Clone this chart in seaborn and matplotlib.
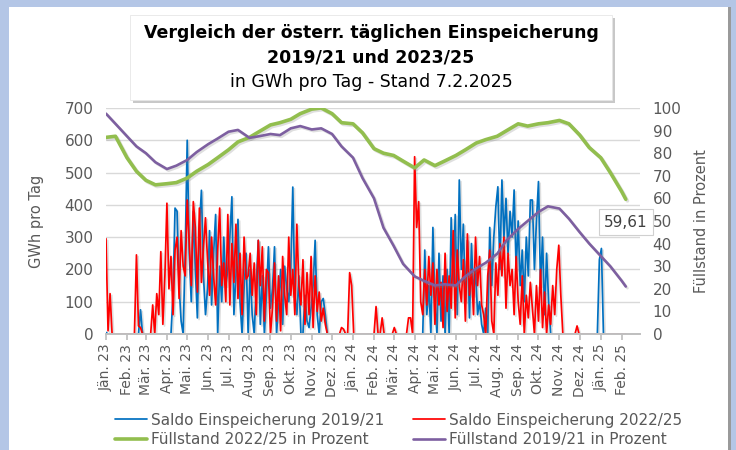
import numpy as np
import pandas as pd
import matplotlib
matplotlib.use("Agg")
import matplotlib.pyplot as plt
import matplotlib.dates as mdates
import matplotlib.patheffects as pe
from matplotlib.patches import Rectangle
from matplotlib.ticker import FuncFormatter, MultipleLocator
import seaborn as sns

# ---------------- data ----------------
title_lines = ["Vergleich der österr. täglichen Einspeicherung",
               "2019/21 und 2023/25",
               "in GWh pro Tag - Stand 7.2.2025"]
month_names = ["Jän.", "Feb.", "Mär.", "Apr.", "Mai.", "Jun.",
               "Jul.", "Aug.", "Sep.", "Okt.", "Nov.", "Dez."]
series_names = ["Saldo Einspeicherung 2019/21", "Saldo Einspeicherung 2022/25",
                "Füllstand 2022/25 in Prozent", "Füllstand 2019/21 in Prozent"]
left_label = "GWh pro Tag"
right_label = "Füllstand in Prozent"
end_label = "59,61"

# daily net injection, sampled every 3 days from 1 Jan 2023 (GWh/day)
saldo_start = "2023-01-01"
saldo_step = "3D"
saldo_2022_25 = [
    295, 10, 125, 0, 0, 0, 0, 0, 0, 0,
    0, 0, 0, 0, 0, 245, 25, 20, 0, 0,
    0, 0, 0, 90, 0, 125, 60, 255, 30, 180,
    405, 140, 240, 60, 260, 300, 110, 320, 210, 180,
    415, 280, 150, 410, 330, 130, 390, 160, 270, 360,
    230, 120, 300, 180, 90, 260, 390, 150, 220, 100,
    370, 90, 280, 160, 340, 110, 250, 60, 300, 170,
    180, 250, 120, 220, 60, 290, 150, 270, 40, 200,
    190, 0, 80, 220, 40, 180, 10, 240, 120, 60,
    300, 120, 200, 60, 340, 150, 90, 230, 30, 190,
    60, 240, 20, 180, 70, 130, 40, 80, 30, 0,
    0, 0, 0, 0, 0, 0, 20, 15, 0, 0,
    190, 150, 0, 0, 0, 0, 0, 0, 0, 0,
    0, 0, 0, 85, 0, 0, 50, 0, 0, 0,
    0, 0, 20, 0, 0, 0, 0, 0, 0, 50,
    50, 0, 549, 330, 410, 100, 60, 200, 90, 240,
    120, 220, 30, 200, 90, 160, 20, 250, 70, 180,
    80, 320, 50, 260, 150, 100, 230, 40, 310, 120,
    200, 60, 300, 150, 240, 90, 60, 0, 180, 260,
    40, 0, 220, 120, 280, 180, 300, 80, 250, 150,
    200, 60, 240, 100, 30, 180, 0, 120, 50, 160,
    80, 0, 150, 40, 200, 20, 130, 0, 90, 30,
    150, 60, 200, 275, 120, 0, 0, 0, 0, 0,
    0, 0, 25, 0, 0, 0, 0, 0, 0, 0,
    0, 0, 0, 0, 0, 0, 0, 0, 0, 0,
    0, 0, 0, 0, 0, 0, 0,
]
saldo_2019_21 = [
    5, 0, 0, 0, 0, 0, 0, 0, 0, 0,
    0, 0, 0, 0, 0, 0, 0, 75, 0, 0,
    0, 0, 0, 0, 0, 0, 0, 0, 0, 0,
    0, 0, 0, 120, 390, 380, 150, 40, 0, 250,
    600, 250, 100, 380, 200, 50, 330, 445, 180, 60,
    140, 320, 90, 250, 370, 0, 210, 100, 300, 150,
    200, 300, 425, 60, 180, 355, 100, 0, 140, 250,
    0, 200, 60, 0, 150, 290, 30, 180, 0, 120,
    270, 80, 140, 270, 0, 100, 200, 30, 210, 140,
    100, 200, 455, 120, 60, 180, 0, 0, 120, 40,
    20, 80, 150, 290, 60, 0, 100, 110, 60, 0,
    0, 0, 0, 0, 0, 0, 0, 0, 0, 0,
    0, 0, 0, 0, 0, 0, 0, 0, 0, 0,
    0, 0, 0, 0, 0, 0, 0, 0, 0, 0,
    0, 0, 0, 0, 0, 0, 0, 0, 0, 0,
    0, 0, 0, 0, 0, 0, 0, 260, 60, 150,
    0, 330, 100, 0, 250, 40, 180, 0, 200, 0,
    360, 150, 370, 60, 477, 200, 340, 100, 290, 50,
    280, 120, 200, 60, 100, 30, 0, 80, 0, 330,
    150, 300, 394, 456, 200, 477, 300, 420, 250, 380,
    300, 446, 200, 350, 150, 260, 100, 300, 180, 415,
    415, 200, 350, 472, 150, 300, 60, 250, 100, 0,
    0, 0, 0, 0, 0, 0, 0, 0, 0, 0,
    0, 0, 0, 0, 0, 0, 0, 0, 0, 0,
    0, 0, 0, 230, 265, 0, 0, 0, 0, 0,
    0, 0, 0, 0, 0, 0, 0,
]

# storage level (%), on the 1st and 15th of each month plus the last day
fill_dates = ["2023-01-01", "2023-01-15", "2023-02-01", "2023-02-15", "2023-03-01", "2023-03-15",
              "2023-04-01", "2023-04-15", "2023-05-01", "2023-05-15", "2023-06-01", "2023-06-15",
              "2023-07-01", "2023-07-15", "2023-08-01", "2023-08-15", "2023-09-01", "2023-09-15",
              "2023-10-01", "2023-10-15", "2023-11-01", "2023-11-15", "2023-12-01", "2023-12-15",
              "2024-01-01", "2024-01-15", "2024-02-01", "2024-02-15", "2024-03-01", "2024-03-15",
              "2024-04-01", "2024-04-15", "2024-05-01", "2024-05-15", "2024-06-01", "2024-06-15",
              "2024-07-01", "2024-07-15", "2024-08-01", "2024-08-15", "2024-09-01", "2024-09-15",
              "2024-10-01", "2024-10-15", "2024-11-01", "2024-11-15", "2024-12-01", "2024-12-15",
              "2025-01-01", "2025-01-15", "2025-02-01", "2025-02-07"]
fill_2022_25 = [87, 87.5, 78, 72, 68, 66, 66.5, 67, 69, 72, 75, 78,
                81.5, 85, 87, 89.5, 92.5, 93.5, 95, 97.5, 99.5, 100, 97.5, 93.5,
                93, 89, 82, 80, 79, 76.5, 73.5, 77, 74.5, 76.5, 79, 81.5,
                84.5, 86, 87.5, 90, 93, 92, 93, 93.5, 94.5, 93, 88, 82.5,
                78, 71.5, 63, 59.61]
fill_2019_21 = [97.5, 93, 87.5, 83, 80, 76, 73, 74.5, 77, 80.5, 84, 86.5,
                89.5, 90.3, 86.8, 87.5, 88.5, 88, 91, 92, 90.5, 91, 88.5, 83,
                78, 69, 60, 47, 39, 31, 25.5, 23.5, 21.5, 22, 21.5, 25.5,
                29, 31.5, 35.5, 41.5, 46.5, 50, 54, 56.5, 55.5, 51, 45, 40,
                34.5, 30, 23.5, 21]

# ---------------- frames ----------------
saldo_df = pd.DataFrame({
    "date": pd.date_range(saldo_start, periods=len(saldo_2022_25), freq=saldo_step),
    "red": saldo_2022_25,
    "blue": saldo_2019_21,
})
fill_df = pd.DataFrame({"date": pd.to_datetime(fill_dates),
                        "green": fill_2022_25, "purple": fill_2019_21})

# ---------------- style ----------------
sns.set_theme(style="white")
plt.rcParams["font.family"] = ["DejaVu Sans"]
TXT = "#595959"
C_BLUE, C_RED, C_GREEN, C_PURPLE = "#0070C0", "#FF0000", "#92BE4E", "#7D5FA0"

W, H = 736, 450
fig = plt.figure(figsize=(W / 100, H / 100), dpi=100)
fig.patch.set_facecolor("#b4c6e6")
fig.add_artist(Rectangle((9 / W, 0), (728 - 9) / W, (H - 7) / H, transform=fig.transFigure,
                         facecolor="white", edgecolor="none", zorder=-10))
fig.add_artist(Rectangle((728 / W, 0), 3 / W, (H - 7) / H, transform=fig.transFigure,
                         facecolor="#9a9a9a", edgecolor="none", zorder=-9))

ax = fig.add_axes([106 / W, 1 - 334 / H, (640 - 106) / W, (334 - 108) / H])
ax2 = ax.twinx()

shadow = [pe.SimpleLineShadow(offset=(1.2, -1.2), shadow_color="#808080", alpha=0.25), pe.Normal()]

sns.lineplot(data=saldo_df, x="date", y="blue", ax=ax, color=C_BLUE, linewidth=1.25,
             label=series_names[0], path_effects=shadow)
sns.lineplot(data=saldo_df, x="date", y="red", ax=ax, color=C_RED, linewidth=1.25,
             label=series_names[1], path_effects=shadow)
sns.lineplot(data=fill_df, x="date", y="green", ax=ax2, color=C_GREEN, linewidth=2.6,
             label=series_names[2], path_effects=shadow)
sns.lineplot(data=fill_df, x="date", y="purple", ax=ax2, color=C_PURPLE, linewidth=1.9,
             label=series_names[3], path_effects=shadow)

h1, l1 = ax.get_legend_handles_labels()
h2, l2 = ax2.get_legend_handles_labels()
for a in (ax, ax2):
    if a.get_legend() is not None:
        a.get_legend().remove()

# axes ranges
ax.set_ylim(0, 700)
ax2.set_ylim(0, 100)
ax.set_xlim(pd.Timestamp("2023-01-01"), pd.Timestamp("2025-02-28"))
ax.yaxis.set_major_locator(MultipleLocator(100))
ax2.yaxis.set_major_locator(MultipleLocator(10))

tick_dates = pd.date_range("2023-01-01", "2025-02-01", freq="MS")
ax.set_xticks(tick_dates)
ax.xaxis.set_major_formatter(FuncFormatter(
    lambda v, p: f"{month_names[mdates.num2date(v).month - 1]} {mdates.num2date(v).strftime('%y')}"))

ax.grid(axis="y", color="#d9d9d9", linewidth=1)
ax.grid(axis="x", visible=False)
ax2.grid(False)
ax.set_zorder(1)
ax2.set_zorder(2)
ax2.patch.set_visible(False)

for a in (ax, ax2):
    for s in ("top", "left", "right"):
        a.spines[s].set_visible(False)
    a.spines["bottom"].set_color("#bfbfbf")
    a.set_xlabel("")
ax.tick_params(axis="x", direction="out", length=4, color="#bfbfbf", labelsize=10,
               labelcolor=TXT, rotation=90, pad=3, bottom=True)
ax.tick_params(axis="y", length=0, labelsize=11, labelcolor=TXT, pad=9)
ax2.tick_params(axis="y", length=0, labelsize=11, labelcolor=TXT, pad=9)

ax.set_ylabel(left_label, fontsize=10.5, color=TXT)
ax.yaxis.set_label_coords((44 - 106) / 534, 0.5)
ax2.set_ylabel(right_label, fontsize=10.5, color=TXT, rotation=90)
ax2.yaxis.set_label_coords((694 - 106) / 534, 0.5)

# end label of the 2022/25 storage level
ax2.annotate(end_label, xy=(fill_df["date"].iloc[-1], fill_2022_25[-1]),
             xytext=(0, -23), textcoords="offset pixels", ha="center", va="center",
             fontsize=11, color="#404040",
             bbox=dict(boxstyle="square,pad=0.35", facecolor="white", edgecolor="#d0d0d0",
                       linewidth=0.8))

# title box with shadow
fig.add_artist(Rectangle((133 / W, 1 - 103 / H), 482 / W, 85 / H, transform=fig.transFigure,
                         facecolor="#c8c8c8", edgecolor="none", zorder=5))
fig.add_artist(Rectangle((130 / W, 1 - 100 / H), 482 / W, 85 / H, transform=fig.transFigure,
                         facecolor="white", edgecolor="#e6e6e6", linewidth=0.6, zorder=6))
cx = 371 / W
fig.text(cx, 1 - 33 / H, title_lines[0], ha="center", va="center", fontsize=12.5,
         fontweight="bold", color="black", zorder=7)
fig.text(cx, 1 - 58 / H, title_lines[1], ha="center", va="center", fontsize=12.5,
         fontweight="bold", color="black", zorder=7)
fig.text(cx, 1 - 82 / H, title_lines[2], ha="center", va="center", fontsize=12.5,
         color="black", zorder=7)

# legend
handles = [h1[0], h2[0], h1[1], h2[1]]
labels = [l1[0], l2[0], l1[1], l2[1]]
leg = fig.legend(handles, labels, ncol=2, loc="upper left",
                 bbox_to_anchor=(101 / W, 1 - 399 / H), frameon=False, fontsize=11,
                 handlelength=2.1, handletextpad=0.25, columnspacing=1.9, labelspacing=0.28,
                 labelcolor=TXT)
for lh in leg.get_lines():
    lh.set_path_effects([])

fig.savefig("out.png", dpi=100)
